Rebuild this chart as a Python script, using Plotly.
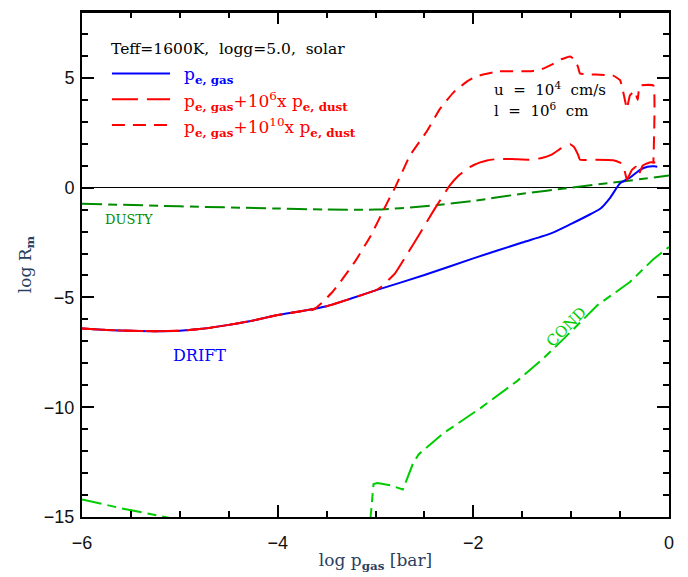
import plotly.graph_objects as go

# ---- data ----
drift_x = [-6, -5.75, -5.5, -5.25, -5, -4.75, -4.5, -4.25, -4, -3.75, -3.5, -3.25, -3, -2.5, -2,
           -1.5, -1.2, -1, -0.8, -0.7, -0.6, -0.5, -0.4, -0.3, -0.22, -0.15, -0.12]
drift_y = [-6.42, -6.48, -6.52, -6.54, -6.52, -6.42, -6.25, -6.05, -5.8, -5.62, -5.4, -5.05, -4.68,
           -3.98, -3.22, -2.5, -2.07, -1.65, -1.2, -0.95, -0.45, 0.2, 0.45, 0.8, 0.95, 0.97, 0.95]

dust6_x = [-6, -5.75, -5.5, -5.25, -5, -4.75, -4.5, -4.25, -4, -3.75, -3.5, -3.25, -3, -2.95,
           -2.9, -2.8, -2.7, -2.54, -2.4, -2.24, -2.15, -2.07, -2.0, -1.93, -1.85, -1.76, -1.6,
           -1.42, -1.3, -1.2, -1.1, -1.01, -0.97, -0.93, -0.91, -0.8, -0.57, -0.48, -0.45, -0.43,
           -0.38, -0.34, -0.31, -0.27, -0.2, -0.14]
dust6_y = [-6.42, -6.48, -6.52, -6.54, -6.52, -6.42, -6.25, -6.05, -5.8, -5.62, -5.4, -5.05, -4.68,
           -4.55, -4.35, -3.9, -3.2, -2.04, -1.0, 0.1, 0.55, 0.85, 1.02, 1.15, 1.25, 1.3, 1.3,
           1.27, 1.35, 1.5, 1.8, 1.98, 1.85, 1.5, 1.27, 1.27, 1.25, 1.1, 0.7, 0.36,
           0.8, 0.95, 0.6, 1.0, 1.15, 1.15]

dust10_x = [-6, -5.75, -5.5, -5.25, -5, -4.75, -4.5, -4.25, -4, -3.75, -3.64, -3.55, -3.45, -3.36,
            -3.2, -3.05, -2.88, -2.8, -2.65, -2.47, -2.34, -2.2, -2.06, -1.98, -1.9, -1.8, -1.73,
            -1.42, -1.3, -1.2, -1.1, -1.01, -0.97, -0.93, -0.91, -0.75, -0.57, -0.5, -0.47, -0.43,
            -0.4, -0.35, -0.32, -0.3, -0.16, -0.16]
dust10_y = [-6.42, -6.48, -6.52, -6.54, -6.52, -6.42, -6.25, -6.05, -5.8, -5.62, -5.57, -5.25,
            -4.8, -4.3, -3.3, -2.2, -0.68, 0.0, 1.45, 2.6, 3.6, 4.35, 4.85, 5.05, 5.15, 5.25, 5.3,
            5.3, 5.4, 5.6, 5.85, 5.97, 5.85, 5.5, 5.2, 5.15, 5.1, 4.9, 4.4, 3.6,
            4.2, 4.4, 4.0, 4.65, 4.65, 1.1]

dusty_x = [-6, -5, -4, -3.5, -3, -2.5, -2, -1.5, -1, -0.5, 0]
dusty_y = [-0.73, -0.85, -0.95, -1.0, -1.0, -0.85, -0.6, -0.28, 0.0, 0.27, 0.55]

cond_x = [-6, -5.6, -5.15, -5.0, None, -3.06, -3.02, -2.98, -2.85, -2.72, -2.62, -2.56, -2.31,
          -1.93, -1.55, -1.29, -1.08, -0.73, -0.4, -0.16, 0]
cond_y = [-14.2, -14.6, -15.0, -15.15, None, -15.5, -13.5, -13.45, -13.55, -13.75, -12.6, -12.15,
          -11.2, -10.05, -8.8, -7.8, -6.9, -5.35, -4.3, -3.26, -2.7]

x_ticks = [-6, -4, -2, 0]
y_ticks = [-15, -10, -5, 0, 5]

BLUE = "#0000ff"
RED = "#ff0000"
DGREEN = "#008c00"
LGREEN = "#00cd00"
SERIF = "DejaVu Serif"
SANS = "Liberation Sans"

DASHDOT = "20px,6px,9px,6px"
LONG = "26px,9px"
SHORT = "13px,8px"

fig = go.Figure()
fig.add_trace(go.Scatter(x=dusty_x, y=dusty_y, mode="lines",
                         line=dict(color=DGREEN, width=2, dash=DASHDOT, shape="spline", smoothing=0.8),
                         showlegend=False))
fig.add_trace(go.Scatter(x=cond_x, y=cond_y, mode="lines", connectgaps=False,
                         line=dict(color=LGREEN, width=2, dash=DASHDOT), showlegend=False))
fig.add_trace(go.Scatter(x=drift_x, y=drift_y, mode="lines",
                         line=dict(color=BLUE, width=2, shape="spline", smoothing=0.6),
                         showlegend=False))
fig.add_trace(go.Scatter(x=dust6_x, y=dust6_y, mode="lines",
                         line=dict(color=RED, width=2, dash=LONG, shape="spline", smoothing=0.3),
                         showlegend=False))
fig.add_trace(go.Scatter(x=dust10_x, y=dust10_y, mode="lines",
                         line=dict(color=RED, width=2, dash=SHORT, shape="spline", smoothing=0.3),
                         showlegend=False))

# legend key (drawn manually, in paper coordinates)
key_rows = [(0.878, BLUE, "solid", "p<sub><b>e, gas</b></sub>"),
            (0.827, RED, LONG, "p<sub><b>e, gas</b></sub>+10<sup>6</sup>x p<sub><b>e, dust</b></sub>"),
            (0.776, RED, SHORT, "p<sub><b>e, gas</b></sub>+10<sup>10</sup>x p<sub><b>e, dust</b></sub>")]
for ky, col, dsh, lab in key_rows:
    fig.add_shape(type="line", xref="paper", yref="paper", x0=0.051, x1=0.150, y0=ky, y1=ky,
                  line=dict(color=col, width=2, dash=dsh))
    fig.add_annotation(xref="paper", yref="paper", x=0.170, y=ky - 0.004, text=lab,
                       showarrow=False, xanchor="left", yanchor="middle",
                       font=dict(family=SERIF, size=17, color=col))

# top edge of the frame
fig.add_shape(type="line", xref="paper", yref="paper", x0=0, x1=1, y0=1, y1=1,
              line=dict(color="black", width=2), layer="above")

fig.add_annotation(xref="paper", yref="paper", x=0.046, y=0.927,
                   text="Teff=1600K,  logg=5.0,  solar", showarrow=False,
                   xanchor="left", yanchor="middle", font=dict(family=SERIF, size=15.5, color="black"))
fig.add_annotation(xref="paper", yref="paper", x=0.698, y=0.848,
                   text="u  =  10<sup>4</sup>  cm/s", showarrow=False,
                   xanchor="left", yanchor="middle", font=dict(family=SERIF, size=15, color="black"))
fig.add_annotation(xref="paper", yref="paper", x=0.698, y=0.805,
                   text="l  =  10<sup>6</sup>  cm", showarrow=False,
                   xanchor="left", yanchor="middle", font=dict(family=SERIF, size=15, color="black"))

fig.add_annotation(x=-5.52, y=-1.45, text="DUSTY", showarrow=False,
                   font=dict(family=SERIF, size=13, color=DGREEN))
fig.add_annotation(x=-4.8, y=-7.65, text="DRIFT", showarrow=False,
                   font=dict(family=SERIF, size=16, color=BLUE))
fig.add_annotation(x=-1.05, y=-6.35, text="COND", showarrow=False, textangle=-45,
                   font=dict(family=SERIF, size=15, color=LGREEN))

axis_common = dict(showline=True, linewidth=2, linecolor="black", mirror="ticks",
                   ticks="inside", ticklen=12, tickwidth=1.5, tickcolor="black",
                   showgrid=False, automargin=True,
                   tickfont=dict(family=SANS, size=18, color="#111"))
fig.update_xaxes(range=[-6, 0], tickvals=x_ticks, zeroline=False, ticklabelstandoff=8,
                 minor=dict(dtick=0.5, ticklen=6, ticks="inside", tickcolor="black", tickwidth=1.5),
                 title=dict(text="log p<sub><b>gas</b></sub> [bar]", font=dict(family=SERIF, size=17),
                            standoff=3),
                 **axis_common)
fig.update_yaxes(range=[-15, 8], tickvals=y_ticks, zeroline=True, zerolinecolor="black",
                 zerolinewidth=1, ticklabelstandoff=2,
                 minor=dict(dtick=1, ticklen=6, ticks="inside", tickcolor="black", tickwidth=1.5),
                 title=dict(text="log R<sub><b>m</b></sub>", font=dict(family=SERIF, size=17),
                            standoff=8),
                 **axis_common)

# page body adds an 8px offset; size the figure so the plot frame lands where the reference has it
fig.update_layout(width=680, height=569, plot_bgcolor="white", paper_bgcolor="white",
                  margin=dict(l=74, r=19, t=2, b=60), showlegend=False)

fig.write_html("out.html")
